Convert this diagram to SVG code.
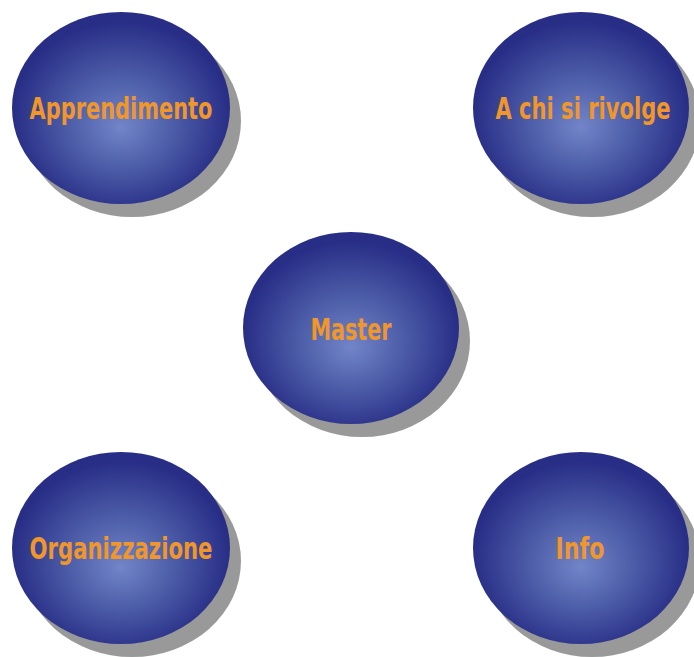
<svg xmlns="http://www.w3.org/2000/svg" width="694" height="657" viewBox="0 0 694 657">
<defs>
<radialGradient id="g" cx="0.5" cy="0.55" r="0.5" fx="0.5" fy="0.6">
<stop offset="0" stop-color="#7285c8"/>
<stop offset="0.5" stop-color="#4b5ba7"/>
<stop offset="1" stop-color="#282e86"/>
</radialGradient>
</defs>
<style>
.sh{fill:#999999}
.b{fill:url(#g)}
.t{fill:#f0962a;font-family:"DejaVu Sans Condensed","DejaVu Sans",sans-serif;font-weight:bold;font-size:30px;text-anchor:middle}
</style>
<rect width="694" height="657" fill="#ffffff"/>
<g id="connectors"></g>
<g id="apprendimento">
<ellipse class="sh" cx="132" cy="121" rx="109" ry="96"/>
<ellipse class="b" cx="121" cy="108" rx="109" ry="96"/>
<text class="t" x="121" y="119" textLength="183" lengthAdjust="spacingAndGlyphs">Apprendimento</text>
</g>
<g id="achisirivolge">
<ellipse class="sh" cx="592" cy="121" rx="108" ry="96"/>
<ellipse class="b" cx="581" cy="108" rx="108" ry="96"/>
<text class="t" x="583" y="119" textLength="175" lengthAdjust="spacingAndGlyphs">A chi si rivolge</text>
</g>
<g id="master">
<ellipse class="sh" cx="362" cy="341" rx="108" ry="96"/>
<ellipse class="b" cx="351" cy="328" rx="108" ry="96"/>
<text class="t" x="351" y="340" textLength="81" lengthAdjust="spacingAndGlyphs">Master</text>
</g>
<g id="organizzazione">
<ellipse class="sh" cx="132" cy="561" rx="109" ry="96"/>
<ellipse class="b" cx="121" cy="548" rx="109" ry="96"/>
<text class="t" x="121" y="559" textLength="183" lengthAdjust="spacingAndGlyphs">Organizzazione</text>
</g>
<g id="info">
<ellipse class="sh" cx="592" cy="561" rx="108" ry="96"/>
<ellipse class="b" cx="581" cy="548" rx="108" ry="96"/>
<text class="t" x="580" y="559" textLength="49" lengthAdjust="spacingAndGlyphs">Info</text>
</g>
</svg>
